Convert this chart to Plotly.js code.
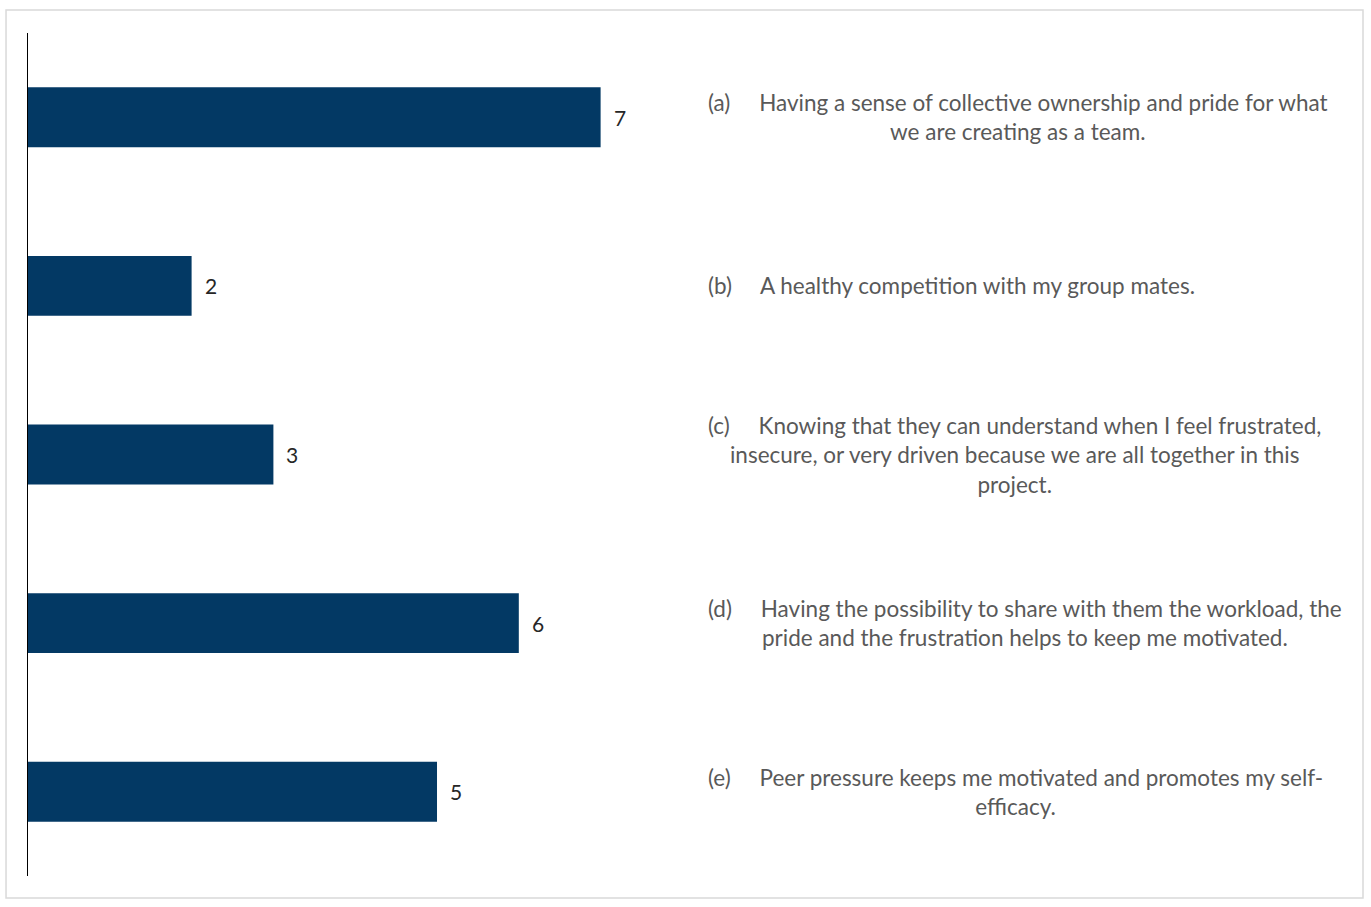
<!DOCTYPE html>
<html>
<head>
<meta charset="utf-8">
<script src="https://cdn.plot.ly/plotly-3.0.1.min.js"></script>
<style>
html,body{margin:0;padding:0;background:#fff;}
#chart{width:1371px;height:907px;}
</style>
</head>
<body>
<div id="chart"></div>
<script>
const categories = ['(a)', '(b)', '(c)', '(d)', '(e)'];
const values = [7, 2, 3, 6, 5];
const descriptions = [
  ['Having a sense of collective ownership and pride for what', 'we are creating as a team.'],
  ['A healthy competition with my group mates.'],
  ['Knowing that they can understand when I feel frustrated,', 'insecure, or very driven because we are all together in this', 'project.'],
  ['Having the possibility to share with them the workload, the', 'pride and the frustration helps to keep me motivated.'],
  ['Peer pressure keeps me motivated and promotes my self-', 'efficacy.']
];

const FONT = 'Lato, "Open Sans", sans-serif';
const gap = '\u00a0\u00a0\u00a0\u00a0\u00a0';

const annotations = [];
categories.forEach((c, i) => {
  annotations.push({
    x: values[i], y: c, xref: 'x', yref: 'y',
    text: String(values[i]), showarrow: false,
    xanchor: 'left', yanchor: 'middle', xshift: 11,
    font: {family: FONT, size: 21, color: '#262626'}
  });
  const lines = descriptions[i].slice();
  lines[0] = c + gap + lines[0];
  annotations.push({
    x: 1.00893, y: c, xref: 'paper', yref: 'y',
    text: lines.join('<br>'), showarrow: false,
    xanchor: 'left', yanchor: 'middle', align: 'center',
    font: {family: FONT, size: 22.5, color: '#595959'}
  });
});

const data = [{
  type: 'bar', orientation: 'h',
  x: values, y: categories,
  width: 0.355,
  marker: {color: '#033964', line: {width: 0}},
  hoverinfo: 'skip'
}];

const layout = {
  width: 1371, height: 907,
  margin: {l: 28, r: 671, t: 33, b: 31, pad: 0},
  paper_bgcolor: '#ffffff', plot_bgcolor: '#ffffff',
  showlegend: false,
  xaxis: {range: [0, 8.215], visible: false, fixedrange: true},
  yaxis: {
    type: 'category', autorange: 'reversed',
    showline: true, linecolor: '#000000', linewidth: 1.5,
    showticklabels: false, ticks: '', showgrid: false, zeroline: false
  },
  shapes: [{
    type: 'rect', xref: 'paper', yref: 'paper',
    x0: -0.0327, x1: 1.9866, y0: -0.0261, y1: 1.0273,
    line: {color: '#d9d9d9', width: 1.5}, layer: 'below'
  }],
  annotations: annotations
};

Plotly.newPlot('chart', data, layout, {displayModeBar: false, staticPlot: true});
</script>
</body>
</html>
